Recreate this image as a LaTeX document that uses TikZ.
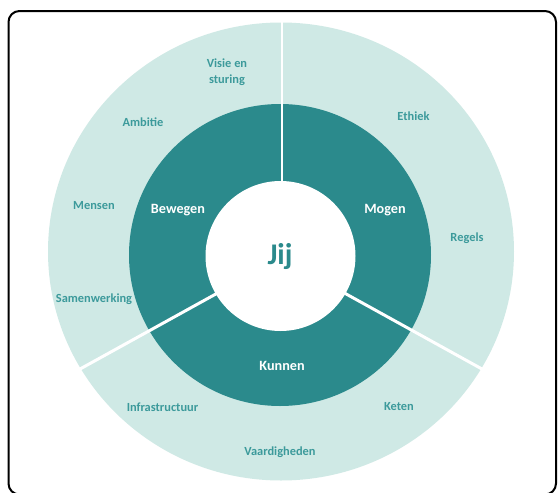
\documentclass[tikz,border=0pt]{standalone}
\usepackage{fontspec}
\setmainfont{Carlito}
\definecolor{darkteal}{HTML}{2B8A8C}
\definecolor{lightteal}{HTML}{CFE9E5}
\definecolor{lbl}{HTML}{3C9A9B}
\begin{document}
\begin{tikzpicture}[x=1pt,y=-1pt,
  outerlbl/.style={text=lbl, font=\bfseries\fontsize{12.4}{16}\selectfont, align=center, inner sep=0pt},
  innerlbl/.style={text=white, font=\bfseries\fontsize{14.2}{16}\selectfont, inner sep=0pt},
  divider/.style={draw=white, line width=3pt},
]
\useasboundingbox (0,0) rectangle (558,493);
\fill[white] (0,0) rectangle (558,493);
% rings
\fill[lightteal] (281,251.5) ellipse [x radius=233pt, y radius=229pt];
\fill[darkteal] (280,255) circle [radius=151pt];
% dividers
\coordinate (m) at (281,258);
\coordinate (mt) at (282,258);
\coordinate (top) at (282,15);
\coordinate (ll) at (71,374);
\coordinate (lr) at (491,374);
\draw[divider, line width=1.8pt] (mt) -- (top);
\draw[divider] (m) -- (ll);
\draw[divider] (m) -- (lr);
% centre
\fill[white] (280.5,256) circle [radius=75pt];
\node[text=darkteal, font=\bfseries\fontsize{30}{34}\selectfont, inner sep=0pt] (jij) at (280,257) {Jij};
% inner labels
\node[innerlbl] (bewegen) at (178,210) {Bewegen};
\node[innerlbl] (mogen) at (385,210) {Mogen};
\node[innerlbl] (kunnen) at (282,366) {Kunnen};
% outer labels
\node[outerlbl] (visie) at (227,72) {Visie en\\sturing};
\node[outerlbl] (ambitie) at (143,122) {Ambitie};
\node[outerlbl] (mensen) at (94,206) {Mensen};
\node[outerlbl] (samen) at (94,299) {Samenwerking};
\node[outerlbl] (ethiek) at (413.5,116) {Ethiek};
\node[outerlbl] (regels) at (467,238) {Regels};
\node[outerlbl] (keten) at (399,407) {Keten};
\node[outerlbl] (vaard) at (280,452) {Vaardigheden};
\node[outerlbl] (infra) at (162.5,407) {Infrastructuur};
% frame
\draw[black, line width=2pt, rounded corners=11pt] (8.5,11) rectangle (556,494.5);
\end{tikzpicture}
\end{document}
